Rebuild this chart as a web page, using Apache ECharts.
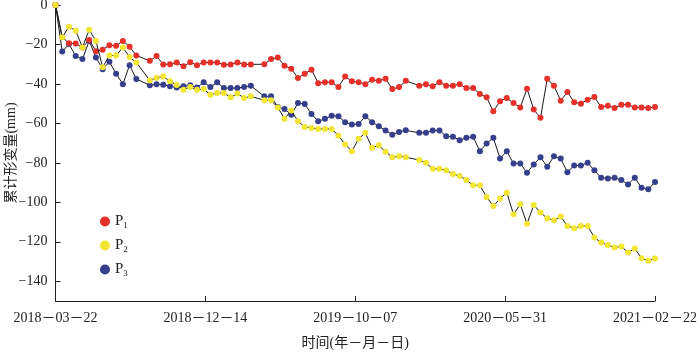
<!DOCTYPE html>
<html>
<head>
<meta charset="utf-8">
<script src="https://cdn.jsdelivr.net/npm/echarts@6/dist/echarts.min.js"></script>
<style>html,body{margin:0;padding:0;background:#fff;}#c{width:700px;height:353px;}</style>
</head>
<body>
<div id="c"></div>
<script>
// acquisition step number (12-day steps from 2018-03-22; some acquisitions missing)
const steps = [0,1,2,3,4,5,6,7,8,9,10,11,12,
  14,15,16,17,18,19,20,21,22,23,24,25,26,27,28,29,
  31,32,33,34,35,36,37,38,39,40,41,42,43,44,45,46,47,48,49,50,51,52,
  54,55,56,57,58,59,60,61,62,63,64,65,66,67,68,69,70,71,72,73,74,75,76,77,78,79,80,81,82,83,84,85,86,87,88,89];
const xTickLabels = ['2018－03－22','2018－12－14','2019－10－07','2020－05－31','2021－02－22'];
const yTickValues = [0,-20,-40,-60,-80,-100,-120,-140];
const seriesNames = ['P1','P2','P3'];
const p1 = [0,-16.3,-19.4,-19.5,-21.5,-17.7,-23.4,-22.7,-20.4,-20.7,-18.2,-21.2,-25.6,
  -28.3,-25.9,-30.1,-30,-29.1,-31,-29,-30.5,-29.1,-29.1,-29.1,-30.3,-30.1,-29.1,-30.1,-30.1,
  -30,-27.4,-26.6,-30.8,-32.3,-37,-34.8,-32.8,-39.6,-39.1,-39.1,-41.6,-36.2,-38.7,-39.1,-40.1,-37.9,-38.4,-37.4,-42.6,-41.6,-38.4,
  -40.9,-40.1,-41.2,-39.1,-40.9,-40.9,-40.1,-42.1,-42.1,-45.1,-46.8,-53.9,-48.8,-47.1,-49.7,-51.9,-42.4,-53,-57.2,-37.4,-40.9,-48.5,-44.1,-49.3,-50,-48,-46.6,-51.7,-51,-52.2,-50.5,-50.5,-51.9,-51.9,-52.2,-51.7];
const p2 = [0,-16.3,-11,-13,-21.5,-12.6,-18.2,-31.5,-25.6,-25.6,-21.5,-26.4,-29.1,
  -38.2,-36.9,-36.2,-38.7,-40.6,-42.9,-41.6,-42.9,-42.6,-45.5,-44.6,-44.6,-46.8,-44.9,-47.1,-46.3,
  -48.3,-48.3,-51.9,-57.6,-53.5,-58.9,-61.8,-62.3,-62.8,-62.8,-62.8,-66.2,-70.7,-74.1,-67.8,-64.8,-72.4,-71.1,-74.4,-77.1,-76.6,-77.1,
  -78.6,-80,-83,-83,-83.8,-85.7,-86.7,-88.7,-91.4,-91.4,-97.3,-101.9,-98.1,-95.1,-106.1,-101,-110.8,-101.4,-105.2,-108.1,-109.1,-107.2,-112,-113.1,-112,-112,-117.8,-120.4,-121.6,-122.9,-122.4,-125.4,-123.4,-128.3,-129.6,-128.4];
const p3 = [0,-23.6,-19.8,-25.8,-27.4,-18.2,-26.6,-32.5,-28.8,-34.8,-40.1,-30.5,-37.5,
  -40.7,-40.2,-40.4,-41.2,-41.8,-41.2,-40.7,-41.8,-39.2,-41.6,-39.2,-42.1,-42.1,-42.1,-41.6,-40.9,
  -46.3,-46.3,-51.7,-52.7,-55.6,-49.7,-50.2,-55.2,-58.9,-57.7,-56.1,-56.4,-59.4,-60.6,-60.3,-56.4,-59.4,-61.4,-63.6,-65.7,-64.3,-63.5,
  -64.8,-64.8,-63.6,-63.6,-66.5,-66.8,-68.5,-67.3,-66.8,-74.1,-70.2,-67.3,-77.8,-74.1,-80.3,-80.3,-85,-80.8,-77.1,-82,-76.6,-77.8,-84.7,-81.3,-81.3,-80,-83.8,-87.5,-87.9,-87.5,-88.7,-90.9,-87.5,-92.6,-93.4,-89.7];

const FONT = '"Liberation Serif", "Noto Sans CJK SC", serif';
const lastStep = steps[steps.length - 1];
const tickStep = lastStep / (xTickLabels.length - 1);
const colors = ['#e8302a', '#f3e632', '#353f8c'];
const values = [p1, p2, p3];
const zs = [3, 4, 2];

const chart = echarts.init(document.getElementById('c'), null, {renderer: 'canvas'});
chart.setOption({
  animation: false,
  backgroundColor: '#fff',
  grid: {left: 55.5, right: 45, top: 5, bottom: 52, containLabel: false, outerBoundsMode: 'none'},
  legend: {
    orient: 'vertical', left: 95, top: 209, itemGap: 8,
    itemWidth: 10, itemHeight: 10, icon: 'circle',
    data: seriesNames,
    formatter: n => '{p|' + n.charAt(0) + '}{s|' + n.slice(1) + '}',
    textStyle: {
      color: '#222',
      rich: {
        p: {fontFamily: FONT, fontSize: 15, color: '#222'},
        s: {fontFamily: FONT, fontSize: 9, color: '#222', verticalAlign: 'bottom', padding: [8, 0, 0, 0]}
      }
    }
  },
  xAxis: {
    type: 'value', min: 0, max: lastStep, interval: tickStep,
    name: '时间(年－月－日)', nameLocation: 'middle', nameGap: 35, nameMoveOverlap: false,
    nameTextStyle: {fontFamily: FONT, fontSize: 14, color: '#222'},
    axisLine: {onZero: false, lineStyle: {color: '#222', width: 1}},
    axisTick: {inside: true, length: 5, lineStyle: {color: '#222'}},
    splitLine: {show: false},
    axisLabel: {
      fontFamily: FONT, fontSize: 14, color: '#222', margin: 10,
      formatter: v => xTickLabels[Math.round(v / tickStep)] || ''
    }
  },
  yAxis: {
    type: 'value', min: -150, max: 0,
    name: '累计形变量(mm)', nameLocation: 'middle', nameGap: 37, nameRotate: 90, nameMoveOverlap: false,
    nameTextStyle: {fontFamily: FONT, fontSize: 14, color: '#222'},
    axisLine: {show: true, onZero: false, lineStyle: {color: '#222', width: 1}},
    axisTick: {show: true, inside: true, length: 5, customValues: yTickValues, lineStyle: {color: '#222'}},
    splitLine: {show: false},
    axisLabel: {
      fontFamily: FONT, fontSize: 14, color: '#222', margin: 8,
      customValues: yTickValues,
      formatter: v => (v < 0 ? '−' + Math.abs(v) : String(v))
    }
  },
  series: seriesNames.map((n, k) => ({
    name: n, type: 'line', z: zs[k],
    data: steps.map((s, i) => [s, values[k][i]]),
    symbol: 'circle', symbolSize: 6, showSymbol: true,
    itemStyle: {color: colors[k]},
    lineStyle: {color: '#1a1a1a', width: 1},
    emphasis: {disabled: true}
  }))
});
</script>
</body>
</html>
